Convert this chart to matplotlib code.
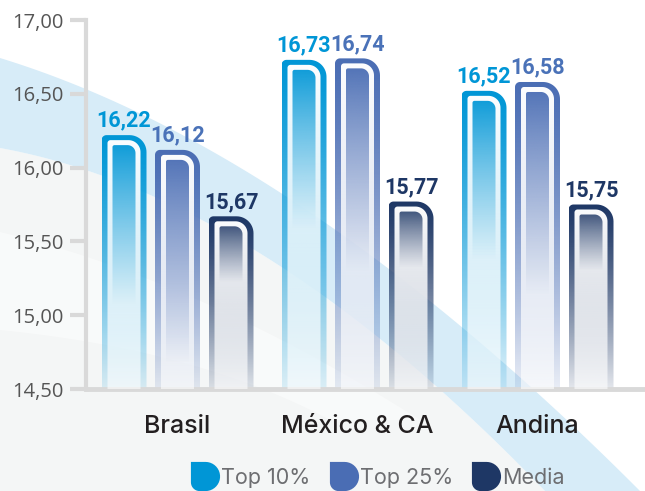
import numpy as np
import matplotlib.pyplot as plt
from matplotlib.path import Path
from matplotlib.patches import PathPatch, Rectangle, Polygon
from matplotlib.lines import Line2D
from matplotlib.colors import to_rgb

groups = ['Brasil', 'México & CA', 'Andina']
series = ['Top 10%', 'Top 25%', 'Media']
top10 = [16.22, 16.73, 16.52]
top25 = [16.12, 16.74, 16.58]
media = [15.67, 15.77, 15.75]
yticks = [14.5, 15.0, 15.5, 16.0, 16.5, 17.0]

colors = ['#0096d6', '#4a6db4', '#1e3765']
label_colors = ['#0096d6', '#4a72b8', '#1e3765']
fade = [1.15, 1.45, 0.45]  # how far (in y units) the inner colour fades out

W, H = 645, 491
fig = plt.figure(figsize=(W / 100, H / 100), dpi=100)

# decorative background (pixel coords)
bg = fig.add_axes([0, 0, 1, 1], zorder=-5)
bg.set_xlim(0, W)
bg.set_ylim(H, 0)
bg.axis('off')
bg.add_patch(Rectangle((0, 0), W, H, color='white'))


def qbez(p0, p1, p2, n=80):
    t = np.linspace(0, 1, n)[:, None]
    return (1 - t) ** 2 * np.array(p0) + 2 * (1 - t) * t * np.array(p1) + t ** 2 * np.array(p2)


up = qbez((0, 58), (300, 150), (640, 491))
lo = qbez((0, 148), (260, 195), (545, 491))
bg.add_patch(Polygon(np.vstack([lo, [[0, H]]]), closed=True, color='#f4f6f6', lw=0))
bg.add_patch(Polygon(np.vstack([up, lo[::-1]]), closed=True, color='#d7ecf8', lw=0))
sw_a = qbez((0, 232), (200, 280), (420, 420))
sw_b = qbez((0, 330), (200, 350), (330, 420))
bg.add_patch(Polygon(np.vstack([sw_a, sw_b[::-1]]), closed=True, color='white', alpha=0.45, lw=0))

# main axes
ax = fig.add_axes([86 / W, 1 - 389 / H, (W - 86) / W, (389 - 20) / H])
ax.patch.set_alpha(0)
x_lo, x_hi = -(177.5 - 86) / 180, (W - 177.5) / 180
ax.set_xlim(x_lo, x_hi)
ax.set_ylim(14.5, 17.0)
sx = (W - 86) / (x_hi - x_lo)   # px per x unit
sy = (389 - 20) / 2.5           # px per y unit

bar_w = 45 / sx
bar_off = 53.5 / sx


def bar_path(xl, xr, yb, yt, rl, rr):
    verts = [(xl, yb), (xl, yt - rl / sy)]
    for a in np.linspace(np.pi, np.pi / 2, 10):
        verts.append((xl + rl / sx + rl / sx * np.cos(a), yt - rl / sy + rl / sy * np.sin(a)))
    for a in np.linspace(np.pi / 2, 0, 16):
        verts.append((xr - rr / sx + rr / sx * np.cos(a), yt - rr / sy + rr / sy * np.sin(a)))
    verts.append((xr, yb))
    verts.append((xl, yb))
    return Path(verts, closed=True)


def grad_fill(path, color, xl, xr, yb, yt, alpha, z):
    patch = PathPatch(path, fc='none', ec='none', transform=ax.transData)
    ax.add_patch(patch)
    n = 300
    d = yt - np.linspace(yt, yb, n)
    img = np.zeros((n, 1, 4))
    img[..., :3] = to_rgb(color)
    img[:, 0, 3] = np.clip(alpha(d), 0, 1)
    im = ax.imshow(img, extent=(xl, xr, yb, yt), origin='upper', aspect='auto',
                   interpolation='bilinear', zorder=z)
    im.set_clip_path(patch)


base = 14.5
for si, vals in enumerate([top10, top25, media]):
    c = colors[si]
    for gi, v in enumerate(vals):
        xc = gi + (si - 1) * bar_off
        xl, xr = xc - bar_w / 2, xc + bar_w / 2
        hb = v - base
        # outline
        grad_fill(bar_path(xl, xr, base, v, 5, 17), c, xl, xr, base, v,
                  lambda d, hb=hb: 1 - 0.88 * (d / hb) ** 1.3, 2)
        # white gap
        o = 6
        grad_fill(bar_path(xl + o / sx, xr - o / sx, base, v - 5 / sy, 3, 12), 'white',
                  xl, xr, base, v, lambda d, hb=hb: 1.0 - 0.4 * (d / hb), 3)
        # inner gradient
        o = 11
        L = fade[si]
        grad_fill(bar_path(xl + o / sx, xr - o / sx, base, v - 10 / sy, 2, 8), c,
                  xl, xr, base, v, lambda d, L=L: np.clip(1 - d / L, 0, 1) ** 1.1, 4)
        ax.annotate(f'{v:.2f}'.replace('.', ','), (xc, v), xytext=(0, 6),
                    textcoords='offset points', ha='center', va='baseline',
                    color=label_colors[si], fontsize=15.5, fontweight='bold',
                    family='Roboto', annotation_clip=False, zorder=6)

ax.set_xlim(x_lo, x_hi)
ax.set_ylim(14.5, 17.0)

for s in ['top', 'right']:
    ax.spines[s].set_visible(False)
ax.spines['left'].set_color('#d9d9d9')
ax.spines['left'].set_linewidth(3)
ax.spines['bottom'].set_color('#d9d9d9')
ax.spines['bottom'].set_linewidth(3.5)
ax.spines['left'].set_zorder(1)

ax.set_yticks(yticks, [f'{t:.2f}'.replace('.', ',') for t in yticks])
ax.tick_params(axis='y', length=11.5, width=3, color='#d9d9d9', pad=5,
               labelsize=14.5, labelcolor='#555555')
for lab in ax.get_yticklabels():
    lab.set_family('Open Sans')

ax.set_xticks(range(len(groups)), groups)
ax.tick_params(axis='x', length=0, pad=19, labelsize=18, labelcolor='#231f20')
for lab in ax.get_xticklabels():
    lab.set_family('Inter')
    lab.set_fontweight('medium')

# legend with D-shaped markers
pts = [(-1, 1), (0, 1)]
pts += [(np.cos(a), np.sin(a)) for a in np.linspace(np.pi / 2, -np.pi / 2, 20)]
pts += [(-0.4 + 0.6 * np.cos(a), -0.4 + 0.6 * np.sin(a)) for a in np.linspace(-np.pi / 2, -np.pi, 10)]
pts += [(-1, 1)]
dmark = Path(pts, closed=True)
handles = [Line2D([], [], ls='none', marker=dmark, markersize=21, markerfacecolor=c,
                  markeredgecolor='none') for c in colors]
fig.legend(handles, series, loc='center', bbox_to_anchor=(380 / W, 1 - 478 / H),
           ncol=3, frameon=False, handlelength=0.9, handletextpad=0.3,
           columnspacing=1.1, labelcolor='#6d6e71', prop={'family': 'Inter', 'size': 15.5})

fig.savefig('out.png', dpi=100)
